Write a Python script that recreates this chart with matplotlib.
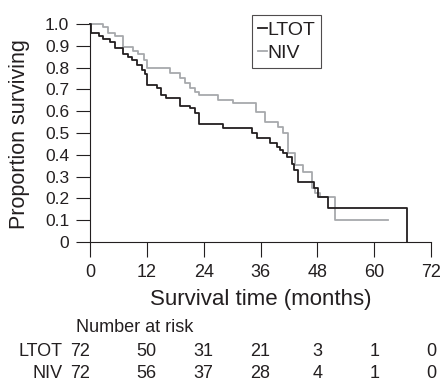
import matplotlib.pyplot as plt
import matplotlib.transforms as mtransforms

plt.rcParams['font.family'] = ['Liberation Sans', 'DejaVu Sans']

# Kaplan-Meier steps (months, proportion surviving)
ltot_t = [0, 0.3, 1.9, 2.8, 4.2, 5.3, 7.0, 8.1, 8.8, 9.9, 10.9, 11.6, 12.0, 14.1,
          14.9, 16.0, 18.9, 21.1, 22.2, 23.0, 28.1, 34.1, 35.2, 38.0, 39.4, 40.1,
          40.8, 41.5, 42.6, 43.0, 44.0, 47.2, 48.2, 50.3, 67.0]
ltot_s = [1.0, 0.958, 0.944, 0.931, 0.917, 0.889, 0.861, 0.847, 0.833, 0.812, 0.790,
          0.770, 0.720, 0.706, 0.674, 0.659, 0.626, 0.613, 0.590, 0.540, 0.522, 0.499,
          0.476, 0.453, 0.437, 0.422, 0.407, 0.390, 0.360, 0.330, 0.277, 0.246, 0.208,
          0.157, 0.0]

niv_t = [0, 2.8, 3.9, 5.3, 7.0, 9.1, 10.2, 11.3, 12.0, 16.9, 19.0, 20.1, 21.1, 22.2,
         23.0, 27.1, 30.1, 35.0, 37.0, 39.8, 40.8, 41.9, 43.3, 45.0, 46.8, 47.5, 48.6,
         51.8, 63.0]
niv_s = [1.0, 0.986, 0.958, 0.944, 0.896, 0.875, 0.861, 0.833, 0.800, 0.774, 0.751,
         0.728, 0.705, 0.690, 0.674, 0.653, 0.636, 0.598, 0.552, 0.529, 0.500, 0.407,
         0.353, 0.323, 0.246, 0.223, 0.208, 0.101, 0.101]

xticks = [0, 12, 24, 36, 48, 60, 72]
yticks = [0, 0.1, 0.2, 0.3, 0.4, 0.5, 0.6, 0.7, 0.8, 0.9, 1.0]
ytick_labels = ['0', '0.1', '0.2', '0.3', '0.4', '0.5', '0.6', '0.7', '0.8', '0.9', '1.0']

risk_ltot = [72, 50, 31, 21, 3, 1, 0]
risk_niv = [72, 56, 37, 28, 4, 1, 0]
risk_x = [-2, 12, 24, 36, 48, 60, 72]

txt = '#231f20'
W, H = 443, 382
fig = plt.figure(figsize=(W / 100, H / 100), dpi=100)
ax = fig.add_axes([90 / W, 1 - 242 / H, 341 / W, 218 / H])

ax.step(niv_t, niv_s, where='post', color='#a7a9ac', lw=1.3, label='NIV', clip_on=False)
ax.step(ltot_t, ltot_s, where='post', color='#231f20', lw=1.3, label='LTOT', clip_on=False)

ax.set_xlim(0, 72)
ax.set_ylim(0, 1)
ax.set_xticks(xticks)
ax.set_yticks(yticks)
ax.set_yticklabels(ytick_labels)
for s in ['top', 'right']:
    ax.spines[s].set_visible(False)
for s in ['left', 'bottom']:
    ax.spines[s].set_linewidth(0.8)
    ax.spines[s].set_color(txt)
ax.tick_params(axis='y', length=10, width=0.8, pad=5, labelsize=12.5, colors=txt)
ax.tick_params(axis='x', length=10.5, width=0.8, pad=5, labelsize=13, colors=txt)

handles, labels = ax.get_legend_handles_labels()
leg = ax.legend(handles[::-1], labels[::-1], loc='upper left',
                bbox_to_anchor=(0.475, 1.041), fontsize=14, frameon=True,
                fancybox=False, edgecolor=txt, handlelength=0.45,
                handletextpad=0.05, borderpad=0.3, labelspacing=0.3,
                borderaxespad=0)
leg.get_frame().set_linewidth(0.8)
for t in leg.get_texts():
    t.set_color(txt)

fig.text(20 / W, 1 - 134 / H, 'Proportion surviving', rotation=90, fontsize=15.5,
         ha='center', va='center', color=txt)
fig.text(260.5 / W, 1 - 300 / H, 'Survival time (months)', fontsize=16,
         ha='center', va='center', color=txt)

fig.text(76 / W, 1 - 327 / H, 'Number at risk', fontsize=13, ha='left',
         va='center', color=txt)
trans = mtransforms.blended_transform_factory(ax.transData, fig.transFigure)
for name, vals, yp in [('LTOT', risk_ltot, 351), ('NIV', risk_niv, 374)]:
    fig.text(63 / W, 1 - yp / H, name, fontsize=13, ha='right', va='center', color=txt)
    for xv, v in zip(risk_x, vals):
        ax.text(xv, 1 - yp / H, str(v), transform=trans, fontsize=13,
                ha='center', va='center', color=txt, clip_on=False)

fig.savefig('out.png', dpi=100)
